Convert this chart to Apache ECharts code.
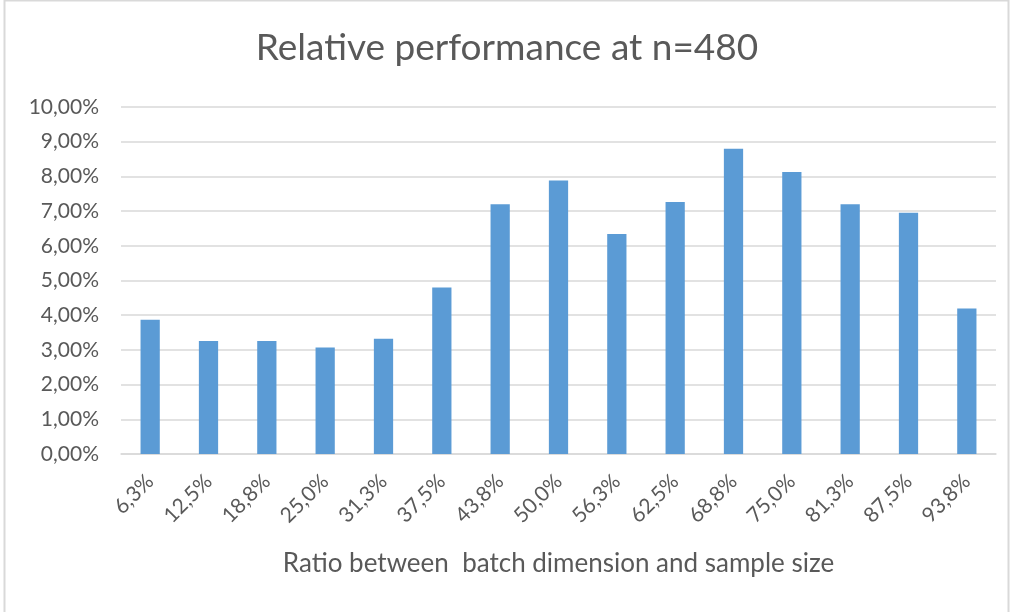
<!DOCTYPE html>
<html>
<head>
<meta charset="utf-8">
<script src="https://cdn.jsdelivr.net/npm/echarts@6/dist/echarts.min.js"></script>
<style>
    html, body {margin:0;padding:0;background:#ffffff;}
    #chart {width:1014px;height:612px;}
</style>
</head>
<body>
<div id="chart"></div>
<script>
    // ratio between batch dimension and sample size
    var categories = ['6,3%', '12,5%', '18,8%', '25,0%', '31,3%', '37,5%', '43,8%', '50,0%',
        '56,3%', '62,5%', '68,8%', '75,0%', '81,3%', '87,5%', '93,8%'];
    // relative performance, in percent
    var performance = [3.87, 3.26, 3.26, 3.07, 3.32, 4.80, 7.20, 7.88,
        6.34, 7.26, 8.80, 8.13, 7.20, 6.95, 4.19];
    var yTicks = {min: 0, max: 10, interval: 1};

    var font = 'Lato, "Open Sans", sans-serif';
    var chart = echarts.init(document.getElementById('chart'));

    var option = {
        animation: false,
        graphic: [
            {
                // outer frame of the chart area
                type: 'rect',
                shape: {x: 4.5, y: 0.5, width: 1004, height: 640},
                style: {fill: 'none', stroke: '#d9d9d9', lineWidth: 2},
                silent: true
            }
        ],
        title: {
            text: 'Relative performance at n=480',
            left: 'center',
            top: 25,
            textStyle: {color: '#595959', fontSize: 37, fontWeight: 'normal', fontFamily: font}
        },
        grid: {left: 121, right: 18, top: 107, bottom: 158},
        xAxis: {
            type: 'category',
            data: categories,
            name: 'Ratio between  batch dimension and sample size',
            nameLocation: 'middle',
            nameGap: 97,
            nameTextStyle: {color: '#595959', fontSize: 26, fontFamily: font},
            axisLine: {lineStyle: {color: '#d9d9d9', width: 1.5}},
            axisTick: {show: false},
            axisLabel: {
                rotate: 45,
                interval: 0,
                margin: 24,
                color: '#595959',
                fontSize: 21,
                fontFamily: font
            }
        },
        yAxis: {
            type: 'value',
            min: yTicks.min,
            max: yTicks.max,
            interval: yTicks.interval,
            axisLine: {show: false},
            axisTick: {show: false},
            splitLine: {lineStyle: {color: '#d9d9d9', width: 1.5}},
            axisLabel: {
                color: '#595959',
                fontSize: 21,
                fontFamily: font,
                margin: 22,
                formatter: function (v) {
                    return v.toFixed(2).replace('.', ',') + '%';
                }
            }
        },
        series: [
            {
                type: 'bar',
                data: performance,
                barWidth: '33%',
                itemStyle: {color: '#5b9bd5'}
            }
        ]
    };
    chart.setOption(option);
</script>
</body>
</html>
